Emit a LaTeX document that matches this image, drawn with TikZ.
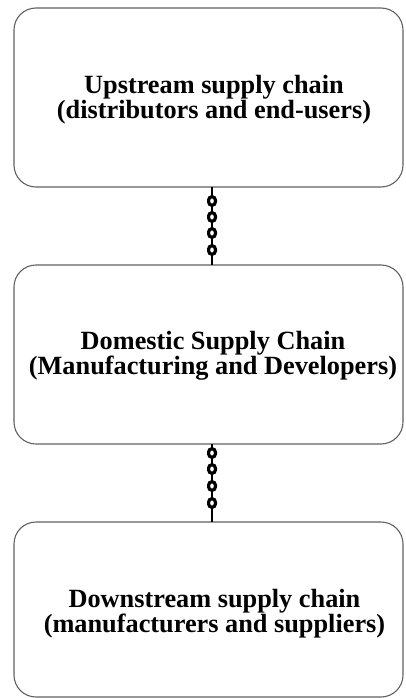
\documentclass[tikz,border=0pt]{standalone}
\usepackage{fontspec}
\setmainfont{Liberation Serif}
\begin{document}
\begin{tikzpicture}[x=1pt,y=-1pt,
  stagebox/.style={draw=black!62, line width=1.1pt, rounded corners=22pt,
    minimum width=389pt, inner sep=0pt, outer sep=0pt},
  stagetext/.style={align=center, inner sep=0pt,
    font=\fontsize{26.3}{23}\selectfont\bfseries},
  chainline/.style={draw=black, line width=1.5pt},
  chainlink/.style={draw=black, fill=white, line width=3.2pt,
    minimum width=6.8pt, minimum height=8.6pt, inner sep=0pt,
    rounded corners=3.4pt}]
\useasboundingbox (0,0) rectangle (405,698);

% the three stages of the chain
\node[stagebox, minimum height=179pt] (up)   at (208.5,97.5)  {};
\node[stagebox, minimum height=179pt] (dom)  at (208.5,354.5) {};
\node[stagebox, minimum height=175pt] (down) at (208.5,609.5) {};

\node[stagetext] (uptxt)   at (214,99.5)  {Upstream supply chain\\(distributors and end-users)};
\node[stagetext] (domtxt)  at (213,355.5) {Domestic Supply Chain\\(Manufacturing and Developers)};
\node[stagetext] (downtxt) at (214.5,614) {Downstream supply chain\\(manufacturers and suppliers)};

% chains linking the stages
\draw[chainline] ([xshift=3.5pt]up.south)  -- ([xshift=3.5pt]dom.north);
\draw[chainline] ([xshift=3.5pt]dom.south) -- ([xshift=3.5pt]down.north);

\foreach \y [count=\i] in {201,217,233,250}
  \node[chainlink] (ua\i) at (212,\y) {};
\foreach \y [count=\i] in {453,469,486,503}
  \node[chainlink] (db\i) at (212,\y) {};
\end{tikzpicture}
\end{document}
